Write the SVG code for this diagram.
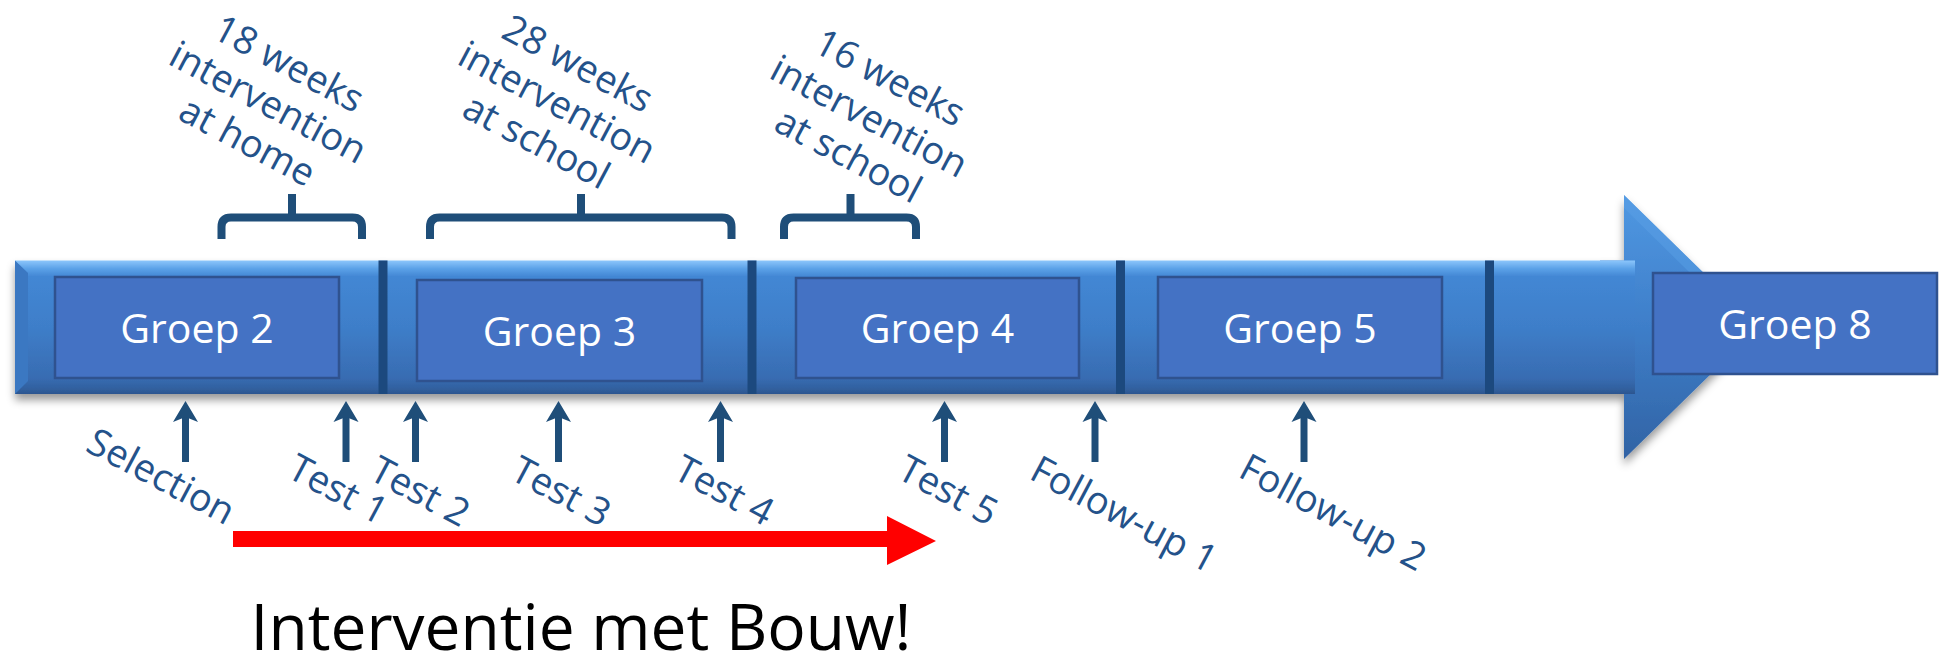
<svg xmlns="http://www.w3.org/2000/svg" width="1939" height="668" viewBox="0 0 1939 668">
<style>
.box{fill:#4472c4;stroke:#2f528f;stroke-width:2.5}
.boxt{font-family:"Open Sans","Liberation Sans",sans-serif;font-size:41px;fill:#fff;text-anchor:middle}
.lbl{font-family:"Open Sans","Liberation Sans",sans-serif;font-size:38px;fill:#24528a;text-anchor:middle}
.div{fill:#1f4a7e}
.brace{fill:none;stroke:#1f4e79;stroke-width:8;stroke-linejoin:round}
.up{stroke:#1f4e79;stroke-width:7;marker-end:url(#ah)}
.big{font-family:"Open Sans","Liberation Sans",sans-serif;font-size:64px;fill:#000;text-anchor:middle}
</style>
<defs>
<linearGradient id="gBody" x1="0" y1="260.5" x2="0" y2="394" gradientUnits="userSpaceOnUse">
<stop offset="0" stop-color="#8cc6fb"/>
<stop offset="0.06" stop-color="#5ca2e8"/>
<stop offset="0.12" stop-color="#4387d4"/>
<stop offset="0.5" stop-color="#3e7ec9"/>
<stop offset="0.88" stop-color="#386cb2"/>
<stop offset="0.95" stop-color="#3262a2"/>
<stop offset="1" stop-color="#2c5690"/>
</linearGradient>
<linearGradient id="gHead" x1="0" y1="195" x2="0" y2="459" gradientUnits="userSpaceOnUse">
<stop offset="0" stop-color="#5098e2"/>
<stop offset="0.5" stop-color="#3e7ec9"/>
<stop offset="1" stop-color="#3163a4"/>
</linearGradient>
<filter id="sh" x="-5%" y="-20%" width="110%" height="150%">
<feDropShadow dx="0" dy="6" stdDeviation="4" flood-color="#000" flood-opacity="0.4"/>
</filter>
<marker id="ah" markerUnits="userSpaceOnUse" viewBox="-22 -13 24 26" refX="-13" refY="0" markerWidth="24" markerHeight="26" orient="auto">
<path d="M0,0 L-21,-12.5 L-16,0 L-21,12.5 Z" fill="#1f4e79"/>
</marker>
</defs>
<rect width="1939" height="668" fill="#fff"/>

<g id="timeline" filter="url(#sh)">
<path d="M1600,260.5 H1624 V195 L1759,327 L1624,459 V394 H1600 Z" fill="url(#gHead)"/>
<rect x="15" y="260.5" width="1620" height="133.5" fill="url(#gBody)"/>
<path d="M1624,195 L1759,327 L1745,327 L1624,208 Z" fill="#5a9fe6" opacity="0.5"/>
<path d="M15,260.5 L28,273 L28,381 L15,394 Z" fill="#3a78c2"/>
<rect class="div" x="378.5" y="260.5" width="9" height="133.5"/>
<rect class="div" x="747.5" y="260.5" width="9" height="133.5"/>
<rect class="div" x="1116" y="260.5" width="9" height="133.5"/>
<rect class="div" x="1485" y="260.5" width="9" height="133.5"/>
</g>

<g id="groep2"><rect class="box" x="55" y="277" width="284" height="101"/><text class="boxt" x="197" y="343">Groep 2</text></g>
<g id="groep3"><rect class="box" x="417" y="280" width="285" height="101"/><text class="boxt" x="559.5" y="346">Groep 3</text></g>
<g id="groep4"><rect class="box" x="796" y="278" width="283" height="100"/><text class="boxt" x="937.5" y="343">Groep 4</text></g>
<g id="groep5"><rect class="box" x="1158" y="277" width="284" height="101"/><text class="boxt" x="1300" y="343">Groep 5</text></g>
<g id="groep8"><rect class="box" x="1653" y="273" width="284" height="101"/><text class="boxt" x="1795" y="339">Groep 8</text></g>

<g id="connectors">
<path class="brace" d="M221.5,239 V227 Q221.5,217.5 231,217.5 H352.5 Q362,217.5 362,227 V239 M292,217.5 V194"/>
<path class="brace" d="M430,239 V227 Q430,217.5 439.5,217.5 H722 Q731.5,217.5 731.5,227 V239 M581,217.5 V194"/>
<path class="brace" d="M784,239 V227 Q784,217.5 793.5,217.5 H906.5 Q916,217.5 916,227 V239 M850.5,217.5 V194"/>
<line class="up" x1="185.5" y1="462" x2="185.5" y2="414"/>
<line class="up" x1="346" y1="462" x2="346" y2="414"/>
<line class="up" x1="415.5" y1="462" x2="415.5" y2="414"/>
<line class="up" x1="558.5" y1="462" x2="558.5" y2="414"/>
<line class="up" x1="720.5" y1="462" x2="720.5" y2="414"/>
<line class="up" x1="944.5" y1="462" x2="944.5" y2="414"/>
<line class="up" x1="1095" y1="462" x2="1095" y2="414"/>
<line class="up" x1="1304" y1="462" x2="1304" y2="414"/>
<path id="redarrow" d="M233,531 H887 V516 L936,541 L887,565 V547 H233 Z" fill="#ff0000"/>
</g>

<g id="label-18w" transform="translate(262,114) rotate(28)">
<text class="lbl" x="0" y="-44">18 weeks</text>
<text class="lbl" x="0" y="0">intervention</text>
<text class="lbl" x="0" y="44">at home</text>
</g>
<g id="label-28w" transform="translate(551,114) rotate(28)">
<text class="lbl" x="0" y="-44">28 weeks</text>
<text class="lbl" x="0" y="0">intervention</text>
<text class="lbl" x="0" y="44">at school</text>
</g>
<g id="label-16w" transform="translate(863,128) rotate(28)">
<text class="lbl" x="0" y="-44">16 weeks</text>
<text class="lbl" x="0" y="0">intervention</text>
<text class="lbl" x="0" y="44">at school</text>
</g>

<g id="label-selection"><text class="lbl" transform="translate(155,488) rotate(28)">Selection</text></g>
<g id="label-test1"><text class="lbl" transform="translate(332,501) rotate(28)">Test 1</text></g>
<g id="label-test2"><text class="lbl" transform="translate(414,503) rotate(28)">Test 2</text></g>
<g id="label-test3"><text class="lbl" transform="translate(555,503) rotate(28)">Test 3</text></g>
<g id="label-test4"><text class="lbl" transform="translate(718,502) rotate(28)">Test 4</text></g>
<g id="label-test5"><text class="lbl" transform="translate(942,502) rotate(28)">Test 5</text></g>
<g id="label-followup1"><text class="lbl" transform="translate(1118,526) rotate(28)">Follow-up 1</text></g>
<g id="label-followup2"><text class="lbl" transform="translate(1327,524) rotate(28)">Follow-up 2</text></g>

<g id="title"><text class="big" x="581" y="650">Interventie met Bouw!</text></g>
</svg>
